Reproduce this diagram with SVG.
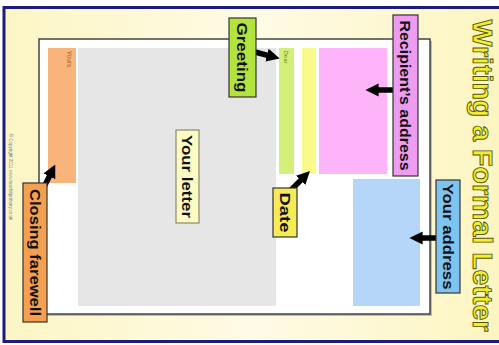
<svg xmlns="http://www.w3.org/2000/svg" width="499" height="345" viewBox="0 0 499 345">
<defs>
<linearGradient id="bg" x1="0" y1="0" x2="1" y2="0">
<stop offset="0" stop-color="#fcf6c4"/>
<stop offset="0.5" stop-color="#fffbe6"/>
<stop offset="1" stop-color="#fcf5c0"/>
</linearGradient>
<marker id="ah" viewBox="0 0 10 10" refX="2" refY="5" markerWidth="2.4" markerHeight="3.4" orient="auto" markerUnits="strokeWidth">
<path d="M0,0 L10,5 L0,10 z" fill="#000"/>
</marker>
<style>
.lbl{font-family:"Liberation Sans",Arial,sans-serif;font-weight:bold;font-size:15px;fill:#111}
.box{stroke:#333;stroke-width:1.2}
.small{font-family:"Liberation Sans",Arial,sans-serif}
.arrow{stroke:#000;stroke-width:5.5;fill:none;marker-end:url(#ah)}
</style>
</defs>
<rect x="0" y="0" width="499" height="345" fill="#ffffff"/>
<rect x="4" y="7.5" width="500" height="334" fill="url(#bg)" stroke="#1c1c7c" stroke-width="3"/>
<text class="small" transform="translate(10,177) rotate(90)" text-anchor="middle" dominant-baseline="central" font-size="4.5" fill="#7a7a9a">© Copyright 2011 www.teachitprimary.co.uk</text>
<g id="title">
<text transform="translate(482,175.5) rotate(90)" text-anchor="middle" dominant-baseline="central" font-family="'Liberation Sans',Arial,sans-serif" font-weight="bold" font-size="28" fill="#f4ee30" stroke="#55550a" stroke-width="0.9" textLength="312" lengthAdjust="spacingAndGlyphs">Writing a Formal Letter</text>
</g>
<g id="paper">
<rect x="41" y="41" width="391" height="275" fill="#bbbbbb"/>
<rect x="39" y="39" width="391" height="275" fill="#ffffff" stroke="#444" stroke-width="1.5"/>
<rect id="yours-bar" x="48" y="48" width="28" height="135" fill="#f9b47c"/>
<text class="small" transform="translate(69,59) rotate(90)" text-anchor="middle" dominant-baseline="central" font-size="6.5" fill="#a8622a">Yours</text>
<rect id="body-bar" x="78" y="48" width="198" height="258" fill="#e6e6e6"/>
<rect id="dear-bar" x="279" y="48" width="15" height="126" fill="#d5f07a"/>
<text class="small" transform="translate(286,57) rotate(90)" text-anchor="middle" dominant-baseline="central" font-size="6" fill="#6b8a1a">Dear</text>
<rect id="date-bar" x="302" y="48" width="14" height="126" fill="#fafa8c"/>
<rect id="recipient-bar" x="319" y="48" width="68" height="126" fill="#feb4f8"/>
<rect id="address-bar" x="353" y="179" width="67" height="127" fill="#b5d6f8"/>
</g>
<g id="connectors">
<line class="arrow" x1="255" y1="52" x2="269.5" y2="55.8"/>
<line class="arrow" x1="393" y1="90" x2="376" y2="90"/>
<line class="arrow" x1="291" y1="190" x2="302.5" y2="178.5"/>
<line class="arrow" x1="436" y1="238" x2="420" y2="238"/>
<line class="arrow" x1="44" y1="187" x2="50.5" y2="174"/>
</g>
<g id="greeting">
<rect class="box" x="229" y="18" width="27" height="79" fill="#b3e43e"/>
<text class="lbl" transform="translate(242.5,57.5) rotate(90)" text-anchor="middle" dominant-baseline="central" textLength="70" lengthAdjust="spacingAndGlyphs">Greeting</text>
</g>
<g id="your-letter">
<rect x="176" y="130" width="23" height="93" fill="#fdfbc4" stroke="#8a8a70" stroke-width="1.2"/>
<text class="lbl" transform="translate(187.5,176.5) rotate(90)" text-anchor="middle" dominant-baseline="central" textLength="83" lengthAdjust="spacingAndGlyphs">Your letter</text>
</g>
<g id="recipients-address">
<rect class="box" x="393" y="15" width="25" height="161" fill="#ee9cf0"/>
<text class="lbl" transform="translate(405.5,95.5) rotate(90)" text-anchor="middle" dominant-baseline="central" textLength="150" lengthAdjust="spacingAndGlyphs">Recipient’s address</text>
</g>
<g id="date">
<rect class="box" x="273" y="188" width="24" height="49" fill="#f7ea55"/>
<text class="lbl" transform="translate(285,212.5) rotate(90)" text-anchor="middle" dominant-baseline="central" textLength="40" lengthAdjust="spacingAndGlyphs">Date</text>
</g>
<g id="your-address">
<rect class="box" x="436" y="180" width="24" height="113" fill="#7ec4f0"/>
<text class="lbl" transform="translate(448,236.5) rotate(90)" text-anchor="middle" dominant-baseline="central" textLength="106" lengthAdjust="spacingAndGlyphs">Your address</text>
</g>
<g id="closing-farewell">
<rect class="box" x="23" y="183" width="24" height="139" fill="#f5a050"/>
<text class="lbl" transform="translate(35,252.5) rotate(90)" text-anchor="middle" dominant-baseline="central" textLength="127" lengthAdjust="spacingAndGlyphs">Closing farewell</text>
</g>
</svg>
